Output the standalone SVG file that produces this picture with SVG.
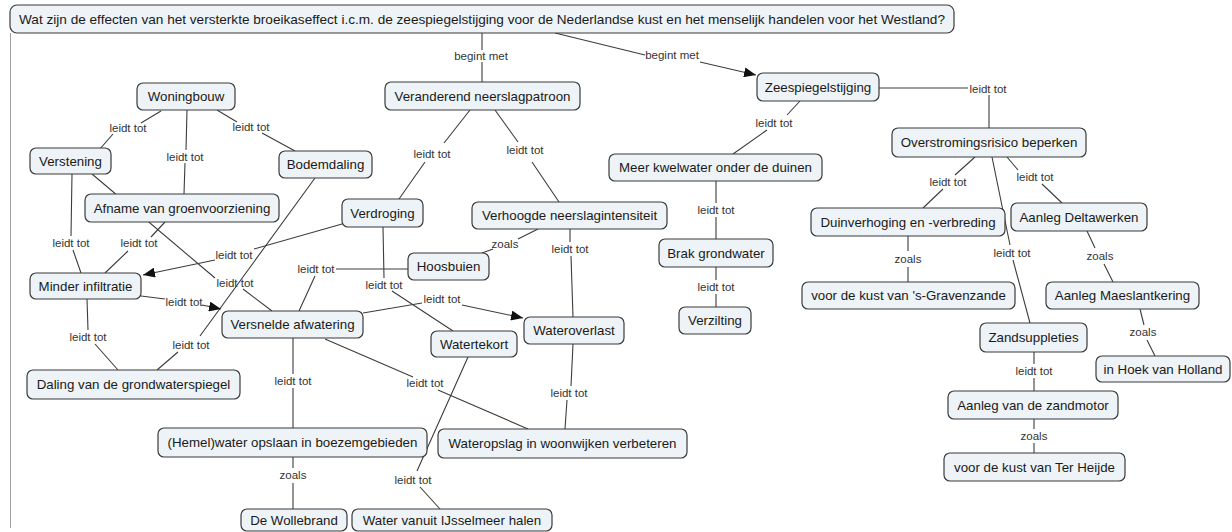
<svg xmlns="http://www.w3.org/2000/svg" width="1232" height="532" viewBox="0 0 1232 532">
  <style>
    .bg { fill: #ffffff; }
    .frame { stroke: #a0a0a0; stroke-width: 1; }
    .node rect { fill: #edf3f6; stroke: #3a3a3a; stroke-width: 1.2; }
    .node text { font-family: "Liberation Sans", Arial, sans-serif; font-size: 13.3px; fill: #1a1a1a; text-anchor: middle; dominant-baseline: central; }
    #vraag text { font-size: 13.6px; }
    .links path { fill: none; stroke: #3c3c3c; stroke-width: 1.1; }
    .links text { font-family: "Liberation Sans", Arial, sans-serif; font-size: 11.5px; fill: #333333; text-anchor: middle; dominant-baseline: central; }
  </style>
  <defs>
    <marker id="arr" viewBox="0 0 12 10" refX="12" refY="5" markerWidth="12" markerHeight="10" orient="auto" markerUnits="userSpaceOnUse">
      <path d="M0,0 L12,5 L0,10 z" fill="#111111"/>
    </marker>
  </defs>

  <rect class="bg" x="0" y="0" width="1232" height="532"/>
  <line class="frame" x1="10.5" y1="33" x2="10.5" y2="528"/>

  <!-- connectors: node -> label -> node -->
  <g id="connectors" class="links">
    <path d="M482,33 L482,50 M482,62 L482,82"/>
    <text x="481" y="56">begint met</text>

    <path d="M555,33 L645,55"/>
    <path d="M700,62 L756,75" marker-end="url(#arr)"/>
    <text x="672" y="55">begint met</text>

    <path d="M161,111 L141,123 M113,134 L99,150"/>
    <text x="128" y="128">leidt tot</text>

    <path d="M187,110 L186,150 M185,163 L184,194"/>
    <text x="185" y="157">leidt tot</text>

    <path d="M217,110 L237,122 M262,133 L295,151"/>
    <text x="251" y="127">leidt tot</text>

    <path d="M72,174 L71,236 M73,250 L81,273"/>
    <text x="71" y="243">leidt tot</text>

    <path d="M92,174 L215,278 M243,289 L272,311"/>
    <text x="235" y="283">leidt tot</text>

    <path d="M165,222 L151,237 M128,251 L105,273"/>
    <text x="139" y="243">leidt tot</text>

    <path d="M315,178 L200,336 M178,352 L157,370"/>
    <text x="191" y="345">leidt tot</text>

    <path d="M342,224 L254,249"/>
    <path d="M215,260 L143,275" marker-end="url(#arr)"/>
    <text x="234" y="255">leidt tot</text>

    <path d="M141,296 L165,299"/>
    <path d="M202,305 L221,309" marker-end="url(#arr)"/>
    <text x="184" y="302">leidt tot</text>

    <path d="M87,299 L88,330 M95,344 L118,370"/>
    <text x="88" y="337">leidt tot</text>

    <path d="M470,110 L444,143 M425,162 L399,199"/>
    <text x="432" y="154">leidt tot</text>

    <path d="M495,110 L518,142 M532,162 L559,202"/>
    <text x="525" y="150">leidt tot</text>

    <path d="M383,227 L384,278 M392,291 L453,331"/>
    <text x="384" y="285">leidt tot</text>

    <path d="M408,269 L336,269 M315,276 L299,311"/>
    <text x="316" y="269">leidt tot</text>

    <path d="M538,229 L518,239 M493,249 L482,253"/>
    <text x="505" y="244">zoals</text>

    <path d="M570,229 L570,242 M571,256 L573,317"/>
    <text x="570" y="249">leidt tot</text>

    <path d="M363,313 L422,303"/>
    <path d="M462,305 L523,318" marker-end="url(#arr)"/>
    <text x="442" y="299">leidt tot</text>

    <path d="M293,338 L293,374 M293,388 L293,428"/>
    <text x="293" y="381">leidt tot</text>

    <path d="M325,339 L413,377 M438,390 L528,429"/>
    <text x="425" y="383">leidt tot</text>

    <path d="M573,344 L571,386 M567,400 L565,429"/>
    <text x="569" y="393">leidt tot</text>

    <path d="M293,457 L293,468 M293,483 L293,509"/>
    <text x="293" y="475">zoals</text>

    <path d="M468,357 L417,471 M420,487 L440,509"/>
    <text x="413" y="480">leidt tot</text>

    <path d="M879,88 L968,88 M989,95 L989,128"/>
    <text x="988" y="89">leidt tot</text>

    <path d="M800,101 L787,115 M767,130 L733,154"/>
    <text x="774" y="123">leidt tot</text>

    <path d="M716,181 L716,203 M716,217 L716,239"/>
    <text x="716" y="210">leidt tot</text>

    <path d="M716,267 L716,280 M716,294 L716,307"/>
    <text x="716" y="287">leidt tot</text>

    <path d="M975,157 L955,175 M943,189 L923,208"/>
    <text x="948" y="182">leidt tot</text>

    <path d="M992,157 L1010,245 M1013,260 L1030,323"/>
    <text x="1012" y="253">leidt tot</text>

    <path d="M1007,157 L1018,170 M1042,184 L1062,203"/>
    <text x="1035" y="177">leidt tot</text>

    <path d="M908,236 L908,251 M908,267 L908,282"/>
    <text x="908" y="259">zoals</text>

    <path d="M1087,231 L1095,248 M1104,264 L1113,282"/>
    <text x="1100" y="256">zoals</text>

    <path d="M1140,309 L1144,325 M1147,340 L1155,356"/>
    <text x="1143" y="332">zoals</text>

    <path d="M1034,352 L1034,364 M1034,378 L1034,391"/>
    <text x="1034" y="371">leidt tot</text>

    <path d="M1034,419 L1034,429 M1034,443 L1034,453"/>
    <text x="1034" y="436">zoals</text>
  </g>

  <!-- concepts -->
  <g id="vraag" class="node"><rect x="10" y="5" width="944" height="28" rx="7"/><text x="482" y="19">Wat zijn de effecten van het versterkte broeikaseffect i.c.m. de zeespiegelstijging voor de Nederlandse kust en het menselijk handelen voor het Westland?</text></g>
  <g id="woningbouw" class="node"><rect x="137" y="83" width="98" height="27" rx="6"/><text x="186" y="96.5">Woningbouw</text></g>
  <g id="veranderend" class="node"><rect x="385" y="82" width="195" height="28" rx="6"/><text x="482.5" y="96">Veranderend neerslagpatroon</text></g>
  <g id="zeespiegel" class="node"><rect x="757" y="73" width="122" height="28" rx="6"/><text x="818" y="87">Zeespiegelstijging</text></g>
  <g id="overstroming" class="node"><rect x="892" y="128" width="194" height="29" rx="6"/><text x="989" y="142.5">Overstromingsrisico beperken</text></g>
  <g id="verstening" class="node"><rect x="30" y="148" width="81" height="26" rx="6"/><text x="70.5" y="161">Verstening</text></g>
  <g id="bodemdaling" class="node"><rect x="279" y="151" width="93" height="27" rx="6"/><text x="325.5" y="164.5">Bodemdaling</text></g>
  <g id="kwelwater" class="node"><rect x="609" y="154" width="213" height="27" rx="6"/><text x="715.5" y="167.5">Meer kwelwater onder de duinen</text></g>
  <g id="afname" class="node"><rect x="85" y="194" width="194" height="28" rx="6"/><text x="182" y="208">Afname van groenvoorziening</text></g>
  <g id="verdroging" class="node"><rect x="342" y="199" width="81" height="28" rx="6"/><text x="382.5" y="213">Verdroging</text></g>
  <g id="verhoogde" class="node"><rect x="472" y="202" width="195" height="27" rx="6"/><text x="569.5" y="215.5">Verhoogde neerslagintensiteit</text></g>
  <g id="duinverhoging" class="node"><rect x="811" y="208" width="194" height="28" rx="6"/><text x="908" y="222">Duinverhoging en -verbreding</text></g>
  <g id="deltawerken" class="node"><rect x="1011" y="203" width="136" height="28" rx="6"/><text x="1079" y="217">Aanleg Deltawerken</text></g>
  <g id="brak" class="node"><rect x="659" y="239" width="114" height="28" rx="6"/><text x="716" y="253">Brak grondwater</text></g>
  <g id="hoosbuien" class="node"><rect x="408" y="253" width="81" height="27" rx="6"/><text x="448.5" y="266.5">Hoosbuien</text></g>
  <g id="minder" class="node"><rect x="30" y="273" width="111" height="26" rx="6"/><text x="85.5" y="286">Minder infiltratie</text></g>
  <g id="gravenzande" class="node"><rect x="802" y="282" width="213" height="27" rx="6"/><text x="908.5" y="295.5">voor de kust van 's-Gravenzande</text></g>
  <g id="maeslant" class="node"><rect x="1046" y="282" width="153" height="27" rx="6"/><text x="1122.5" y="295.5">Aanleg Maeslantkering</text></g>
  <g id="verzilting" class="node"><rect x="679" y="307" width="72" height="27" rx="6"/><text x="715" y="320.5">Verzilting</text></g>
  <g id="versnelde" class="node"><rect x="222" y="311" width="141" height="27" rx="6"/><text x="292.5" y="324.5">Versnelde afwatering</text></g>
  <g id="wateroverlast" class="node"><rect x="524" y="317" width="100" height="27" rx="6"/><text x="574" y="330.5">Wateroverlast</text></g>
  <g id="zandsuppleties" class="node"><rect x="980" y="323" width="107" height="29" rx="6"/><text x="1033.5" y="337.5">Zandsuppleties</text></g>
  <g id="watertekort" class="node"><rect x="431" y="331" width="86" height="26" rx="6"/><text x="474" y="344">Watertekort</text></g>
  <g id="hoek" class="node"><rect x="1096" y="356" width="134" height="26" rx="6"/><text x="1163" y="369">in Hoek van Holland</text></g>
  <g id="daling" class="node"><rect x="27" y="370" width="213" height="29" rx="6"/><text x="133.5" y="384.5">Daling van de grondwaterspiegel</text></g>
  <g id="zandmotor" class="node"><rect x="948" y="391" width="170" height="28" rx="6"/><text x="1033" y="405">Aanleg van de zandmotor</text></g>
  <g id="hemelwater" class="node"><rect x="158" y="428" width="269" height="29" rx="6"/><text x="292.5" y="442.5">(Hemel)water opslaan in boezemgebieden</text></g>
  <g id="wateropslag" class="node"><rect x="438" y="429" width="249" height="29" rx="6"/><text x="562.5" y="443.5">Wateropslag in woonwijken verbeteren</text></g>
  <g id="terheijde" class="node"><rect x="944" y="453" width="181" height="28" rx="6"/><text x="1034.5" y="467">voor de kust van Ter Heijde</text></g>
  <g id="wollebrand" class="node"><rect x="241" y="509" width="106" height="22" rx="6"/><text x="294" y="520.5">De Wollebrand</text></g>
  <g id="ijsselmeer" class="node"><rect x="352" y="509" width="200" height="22" rx="6"/><text x="452" y="520.5">Water vanuit IJsselmeer halen</text></g>
</svg>
